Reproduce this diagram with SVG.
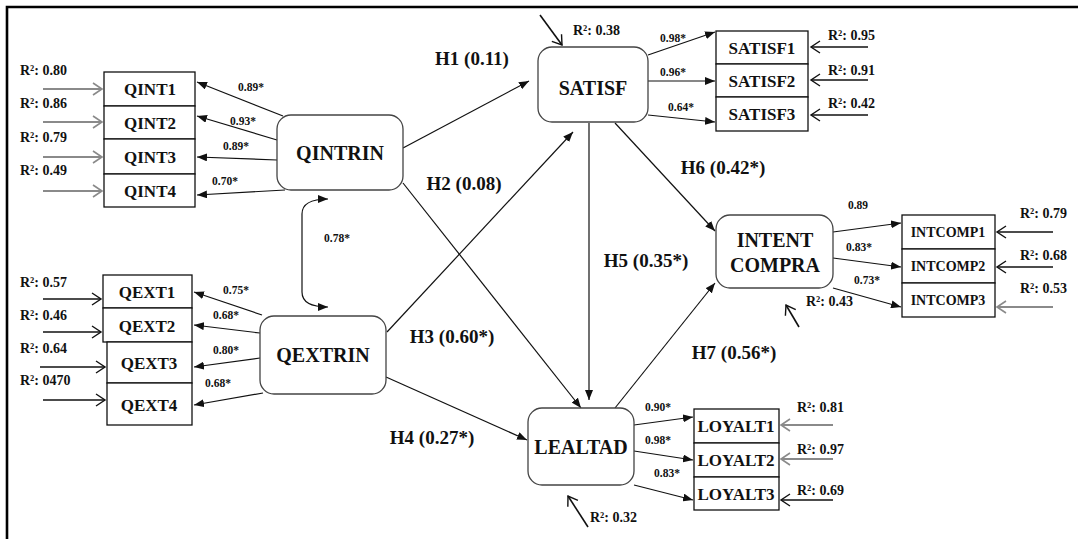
<svg xmlns="http://www.w3.org/2000/svg" width="1078" height="539" viewBox="0 0 1078 539" font-family="'Liberation Serif', 'DejaVu Serif', serif">
  <style>
    text { font-family: "Liberation Serif", "DejaVu Serif", serif; font-weight: bold; fill: #111; }
    .lat { font-size: 20px; text-anchor: middle; dominant-baseline: central; }
    .ind { font-size: 17px; text-anchor: middle; dominant-baseline: central; }
    .ind2 { font-size: 14px; text-anchor: middle; dominant-baseline: central; }
    .hyp { font-size: 19px; text-anchor: middle; dominant-baseline: central; }
    .ld { font-size: 11.5px; text-anchor: middle; dominant-baseline: central; }
    .r2 { font-size: 14px; dominant-baseline: central; }
    .node { fill: #fff; stroke: #444; stroke-width: 1.3; }
    .box { fill: #fff; stroke: #111; stroke-width: 1.3; }
    .p { stroke: #111; stroke-width: 1.2; fill: none; marker-end: url(#tri); }
    .e { stroke: #111; stroke-width: 1.6; fill: none; marker-end: url(#vee); }
    .eg { stroke: #8a8a8a; stroke-width: 2.2; fill: none; marker-end: url(#veeg); }
    .frame { stroke: #000; stroke-width: 2.6; fill: none; }
  </style>
  <defs>
    <marker id="tri" markerUnits="userSpaceOnUse" markerWidth="10" markerHeight="8" refX="10" refY="4" orient="auto-start-reverse">
      <path d="M0,0 L10,4 L0,8 z" fill="#111"/>
    </marker>
    <marker id="vee" markerUnits="userSpaceOnUse" markerWidth="12" markerHeight="14" refX="10" refY="7" orient="auto">
      <path d="M1,1 L10,7 L1,13" fill="none" stroke="#111" stroke-width="1.4"/>
    </marker>
    <marker id="veeg" markerUnits="userSpaceOnUse" markerWidth="12" markerHeight="14" refX="10" refY="7" orient="auto">
      <path d="M1,1 L10,7 L1,13" fill="none" stroke="#8a8a8a" stroke-width="1.6"/>
    </marker>
  </defs>

  <rect width="1078" height="539" fill="#fff"/>
  <!-- open frame: top and left edges only -->
  <path class="frame" d="M7,539 L7,7 L1078,7"/>

  <!-- connectors -->
  <g id="connectors">
    <!-- structural paths -->
    <line class="p" x1="403" y1="148" x2="529" y2="81"/>
    <line class="p" x1="403" y1="183" x2="581" y2="408"/>
    <line class="p" x1="387" y1="332" x2="573" y2="132"/>
    <line class="p" x1="386" y1="377" x2="527" y2="440"/>
    <line class="p" x1="589" y1="123" x2="589" y2="400"/>
    <line class="p" x1="615" y1="123" x2="715" y2="231"/>
    <line class="p" x1="615" y1="408" x2="715" y2="283"/>
    <!-- covariance -->
    <path class="p" d="M328,199 Q302,199 302,214 L302,292 Q302,307 328,307" style="marker-start:url(#tri)"/>

    <!-- QINTRIN loadings -->
    <line class="p" x1="283" y1="116" x2="197" y2="82"/>
    <line class="p" x1="277" y1="140" x2="197" y2="116"/>
    <line class="p" x1="277" y1="160" x2="197" y2="157"/>
    <line class="p" x1="285" y1="190" x2="197" y2="195"/>
    <!-- QEXTRIN loadings -->
    <line class="p" x1="262" y1="315" x2="194" y2="292"/>
    <line class="p" x1="260" y1="333" x2="194" y2="325"/>
    <line class="p" x1="260" y1="358" x2="194" y2="367"/>
    <line class="p" x1="263" y1="393" x2="194" y2="405"/>
    <!-- SATISF loadings -->
    <line class="p" x1="648" y1="55" x2="715" y2="32"/>
    <line class="p" x1="648" y1="81" x2="715" y2="81"/>
    <line class="p" x1="648" y1="115" x2="715" y2="122"/>
    <!-- INTENT COMPRA loadings -->
    <line class="p" x1="833" y1="232" x2="901" y2="223"/>
    <line class="p" x1="833" y1="258" x2="901" y2="267"/>
    <line class="p" x1="833" y1="288" x2="901" y2="307"/>
    <!-- LEALTAD loadings -->
    <line class="p" x1="634" y1="425" x2="693" y2="417"/>
    <line class="p" x1="634" y1="451" x2="693" y2="460"/>
    <line class="p" x1="634" y1="485" x2="693" y2="500"/>

    <!-- error terms -->
    <line class="eg" x1="43" y1="89" x2="102" y2="89"/>
    <line class="eg" x1="43" y1="122" x2="102" y2="122"/>
    <line class="eg" x1="43" y1="157" x2="102" y2="157"/>
    <line class="eg" x1="43" y1="191" x2="102" y2="191"/>
    <line class="e" x1="43" y1="299" x2="101" y2="299"/>
    <line class="e" x1="43" y1="332" x2="101" y2="332"/>
    <line class="e" x1="40" y1="367" x2="105" y2="367"/>
    <line class="e" x1="43" y1="400" x2="105" y2="400"/>
    <line class="e" x1="868" y1="47" x2="811" y2="47"/>
    <line class="e" x1="868" y1="80" x2="811" y2="80"/>
    <line class="e" x1="868" y1="115" x2="811" y2="115"/>
    <line class="e" x1="1053" y1="232" x2="997" y2="232"/>
    <line class="e" x1="1053" y1="267" x2="997" y2="267"/>
    <line class="eg" x1="1053" y1="307" x2="997" y2="307"/>
    <line class="eg" x1="833" y1="425" x2="781" y2="425"/>
    <line class="eg" x1="833" y1="459" x2="781" y2="459"/>
    <line class="e" x1="833" y1="500" x2="781" y2="500"/>
    <line class="e" x1="540" y1="15" x2="562" y2="45"/>
    <line class="e" x1="799" y1="327" x2="786" y2="305"/>
    <line class="e" x1="588" y1="527" x2="568" y2="496"/>
  </g>

  <!-- latent variables -->
  <g id="QINTRIN"><rect class="node" x="277" y="115" width="126" height="75" rx="14"/><text class="lat" x="340" y="153">QINTRIN</text></g>
  <g id="QEXTRIN"><rect class="node" x="260" y="316" width="126" height="78" rx="14"/><text class="lat" x="323" y="355">QEXTRIN</text></g>
  <g id="SATISF"><rect class="node" x="538" y="47" width="110" height="75" rx="14"/><text class="lat" x="593" y="88">SATISF</text></g>
  <g id="LEALTAD"><rect class="node" x="528" y="408" width="106" height="77" rx="14"/><text class="lat" x="581" y="447">LEALTAD</text></g>
  <g id="INTENT_COMPRA"><rect class="node" x="716" y="215" width="117" height="73" rx="14"/><text class="lat" x="775" y="240">INTENT</text><text class="lat" x="775" y="265">COMPRA</text></g>

  <!-- indicators -->
  <g id="QINT1"><rect class="box" x="104" y="72" width="91" height="34"/><text class="ind" x="150" y="89">QINT1</text></g>
  <g id="QINT2"><rect class="box" x="104" y="106" width="91" height="33"/><text class="ind" x="150" y="123">QINT2</text></g>
  <g id="QINT3"><rect class="box" x="104" y="139" width="91" height="35"/><text class="ind" x="150" y="157">QINT3</text></g>
  <g id="QINT4"><rect class="box" x="104" y="174" width="91" height="33"/><text class="ind" x="150" y="191">QINT4</text></g>

  <g id="QEXT1"><rect class="box" x="103" y="275" width="89" height="33"/><text class="ind" x="147" y="292">QEXT1</text></g>
  <g id="QEXT2"><rect class="box" x="103" y="308" width="89" height="34"/><text class="ind" x="147" y="326">QEXT2</text></g>
  <g id="QEXT3"><rect class="box" x="107" y="342" width="85" height="41"/><text class="ind" x="149" y="363">QEXT3</text></g>
  <g id="QEXT4"><rect class="box" x="107" y="383" width="85" height="42"/><text class="ind" x="149" y="405">QEXT4</text></g>

  <g id="SATISF1"><rect class="box" x="716" y="31" width="92" height="33"/><text class="ind" x="762" y="48">SATISF1</text></g>
  <g id="SATISF2"><rect class="box" x="716" y="64" width="92" height="33"/><text class="ind" x="762" y="81">SATISF2</text></g>
  <g id="SATISF3"><rect class="box" x="716" y="97" width="92" height="34"/><text class="ind" x="762" y="114">SATISF3</text></g>

  <g id="INTCOMP1"><rect class="box" x="902" y="215" width="93" height="34"/><text class="ind2" x="948" y="232">INTCOMP1</text></g>
  <g id="INTCOMP2"><rect class="box" x="902" y="249" width="93" height="34"/><text class="ind2" x="948" y="266">INTCOMP2</text></g>
  <g id="INTCOMP3"><rect class="box" x="902" y="283" width="93" height="34"/><text class="ind2" x="948" y="300">INTCOMP3</text></g>

  <g id="LOYALT1"><rect class="box" x="694" y="409" width="85" height="34"/><text class="ind" x="736" y="426">LOYALT1</text></g>
  <g id="LOYALT2"><rect class="box" x="694" y="443" width="85" height="34"/><text class="ind" x="736" y="460">LOYALT2</text></g>
  <g id="LOYALT3"><rect class="box" x="694" y="477" width="85" height="33"/><text class="ind" x="736" y="494">LOYALT3</text></g>

  <!-- path coefficients -->
  <g id="hypotheses">
    <text class="hyp" x="472" y="58">H1 (0.11)</text>
    <text class="hyp" x="464" y="183">H2 (0.08)</text>
    <text class="hyp" x="452" y="336">H3 (0.60*)</text>
    <text class="hyp" x="432" y="437">H4 (0.27*)</text>
    <text class="hyp" x="646" y="260">H5 (0.35*)</text>
    <text class="hyp" x="723" y="167">H6 (0.42*)</text>
    <text class="hyp" x="734" y="352">H7 (0.56*)</text>
  </g>

  <!-- loadings -->
  <g id="loadings">
    <text class="ld" x="251" y="87">0.89*</text>
    <text class="ld" x="243" y="121">0.93*</text>
    <text class="ld" x="236" y="146">0.89*</text>
    <text class="ld" x="225" y="181">0.70*</text>
    <text class="ld" x="236" y="290">0.75*</text>
    <text class="ld" x="226" y="315">0.68*</text>
    <text class="ld" x="226" y="350">0.80*</text>
    <text class="ld" x="218" y="383">0.68*</text>
    <text class="ld" x="337" y="238">0.78*</text>
    <text class="ld" x="673" y="38">0.98*</text>
    <text class="ld" x="673" y="72">0.96*</text>
    <text class="ld" x="681" y="107">0.64*</text>
    <text class="ld" x="858" y="205">0.89</text>
    <text class="ld" x="859" y="247">0.83*</text>
    <text class="ld" x="867" y="280">0.73*</text>
    <text class="ld" x="658" y="407">0.90*</text>
    <text class="ld" x="658" y="440">0.98*</text>
    <text class="ld" x="667" y="473">0.83*</text>
  </g>

  <!-- explained variance -->
  <g id="r2">
    <text class="r2" x="20" y="70">R²: 0.80</text>
    <text class="r2" x="20" y="103">R²: 0.86</text>
    <text class="r2" x="20" y="137">R²: 0.79</text>
    <text class="r2" x="20" y="170">R²: 0.49</text>
    <text class="r2" x="20" y="282">R²: 0.57</text>
    <text class="r2" x="20" y="315">R²: 0.46</text>
    <text class="r2" x="20" y="348">R²: 0.64</text>
    <text class="r2" x="20" y="380">R²: 0470</text>
    <text class="r2" x="573" y="30">R²: 0.38</text>
    <text class="r2" x="828" y="35">R²: 0.95</text>
    <text class="r2" x="828" y="70">R²: 0.91</text>
    <text class="r2" x="828" y="103">R²: 0.42</text>
    <text class="r2" x="1020" y="213">R²: 0.79</text>
    <text class="r2" x="1020" y="255">R²: 0.68</text>
    <text class="r2" x="1020" y="288">R²: 0.53</text>
    <text class="r2" x="806" y="301">R²: 0.43</text>
    <text class="r2" x="797" y="407">R²: 0.81</text>
    <text class="r2" x="797" y="449">R²: 0.97</text>
    <text class="r2" x="797" y="490">R²: 0.69</text>
    <text class="r2" x="590" y="517">R²: 0.32</text>
  </g>
</svg>
